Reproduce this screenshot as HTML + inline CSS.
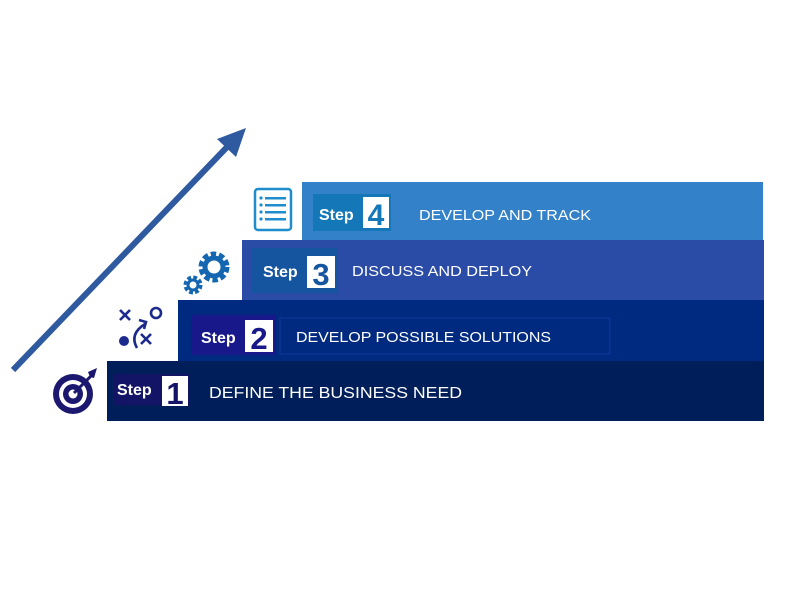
<!DOCTYPE html>
<html><head><style>
html,body{margin:0;padding:0;background:#fff;width:800px;height:600px;overflow:hidden}
svg{display:block}
text{font-family:"Liberation Sans",sans-serif}
</style></head><body>
<svg width="800" height="600" viewBox="0 0 800 600">
<line x1="13" y1="370" x2="228" y2="146" stroke="#2f5aa0" stroke-width="6"/>
<polygon points="246,128 217,139 236,157" fill="#2f5aa0"/>
<rect x="302" y="182" width="461" height="58" fill="#3381c9"/>
<rect x="242" y="240" width="522" height="60" fill="#2a4ba6"/>
<rect x="178" y="300" width="586" height="61" fill="#002a80"/>
<rect x="107" y="361" width="657" height="60" fill="#001e5a"/>
<!-- step 4 -->
<rect x="313" y="194" width="78" height="37" fill="#1478b8"/>
<text x="319" y="220" font-size="16" font-weight="bold" fill="#fff">Step</text>
<rect x="363" y="197" width="26" height="31" fill="#fff"/>
<text x="376" y="225" font-size="30" font-weight="bold" fill="#1478b8" text-anchor="middle">4</text>
<text x="419" y="220" font-size="15" fill="#fff" textLength="172" lengthAdjust="spacingAndGlyphs">DEVELOP AND TRACK</text>
<!-- step 3 -->
<rect x="252" y="248" width="86" height="45" fill="#1555a0"/>
<text x="263" y="277" font-size="16" font-weight="bold" fill="#fff">Step</text>
<rect x="307" y="256" width="28" height="32" fill="#fff"/>
<text x="321" y="285" font-size="31" font-weight="bold" fill="#1555a0" text-anchor="middle">3</text>
<text x="352" y="276" font-size="15" fill="#fff" textLength="180" lengthAdjust="spacingAndGlyphs">DISCUSS AND DEPLOY</text>
<!-- step 2 -->
<rect x="191" y="315" width="85" height="40" fill="#18188a"/>
<rect x="280" y="318" width="330" height="36" fill="none" stroke="#0a3a9a" stroke-width="1"/>
<text x="201" y="343" font-size="16" font-weight="bold" fill="#fff">Step</text>
<rect x="245" y="320" width="28" height="32" fill="#fff"/>
<text x="259" y="349" font-size="31" font-weight="bold" fill="#18188a" text-anchor="middle">2</text>
<text x="296" y="342" font-size="15" fill="#fff" textLength="255" lengthAdjust="spacingAndGlyphs">DEVELOP POSSIBLE SOLUTIONS</text>
<!-- step 1 -->
<rect x="113" y="374" width="76" height="31" fill="#141466"/>
<text x="117" y="395" font-size="16" font-weight="bold" fill="#fff">Step</text>
<rect x="162" y="376" width="26" height="30" fill="#fff"/>
<text x="175" y="404" font-size="31" font-weight="bold" fill="#141466" text-anchor="middle">1</text>
<text x="209" y="398" font-size="16" fill="#fff" textLength="253" lengthAdjust="spacingAndGlyphs">DEFINE THE BUSINESS NEED</text>
<!-- list icon -->
<rect x="255" y="189" width="36" height="41" rx="3" fill="none" stroke="#1f8ccc" stroke-width="2.5"/>
<g fill="#1f8ccc">
<circle cx="261" cy="198" r="1.6"/><rect x="265" y="197" width="21" height="2.5"/>
<circle cx="261" cy="205" r="1.6"/><rect x="265" y="204" width="21" height="2.5"/>
<circle cx="261" cy="212" r="1.6"/><rect x="265" y="211" width="21" height="2.5"/>
<circle cx="261" cy="219" r="1.6"/><rect x="265" y="218" width="21" height="2.5"/>
</g>
<!-- gears -->
<circle cx="214" cy="267" r="12" fill="none" stroke="#1466b0" stroke-width="7" stroke-dasharray="5 2.6"/>
<circle cx="214" cy="267" r="9" fill="none" stroke="#1466b0" stroke-width="5"/>
<circle cx="193" cy="285" r="7" fill="none" stroke="#1466b0" stroke-width="5" stroke-dasharray="3.5 2"/>
<circle cx="193" cy="285" r="5" fill="none" stroke="#1466b0" stroke-width="3"/>
<!-- play icon -->
<g stroke="#1c2a8c" stroke-width="2.6" fill="none">
<path d="M120 310 l10 10 M130 310 l-10 10"/>
<path d="M141 334 l10 10 M151 334 l-10 10"/>
<circle cx="156" cy="313" r="5"/>
<path d="M137 348 q-8 -14 8 -24"/>
<path d="M139 320 l7 2 l-2 7"/>
</g>
<circle cx="124" cy="341" r="5" fill="#1c2a8c"/>
<!-- target icon -->
<circle cx="73" cy="394" r="20" fill="#1c1870"/>
<circle cx="73" cy="394" r="14" fill="#fff"/>
<circle cx="73" cy="394" r="10" fill="#1c1870"/>
<circle cx="73" cy="394" r="4.5" fill="#fff"/>
<line x1="74" y1="393" x2="93" y2="374" stroke="#1c1870" stroke-width="3"/>
<polygon points="88,372 97,368 94,378 90,377" fill="#1c1870"/>
</svg>
</body></html>
